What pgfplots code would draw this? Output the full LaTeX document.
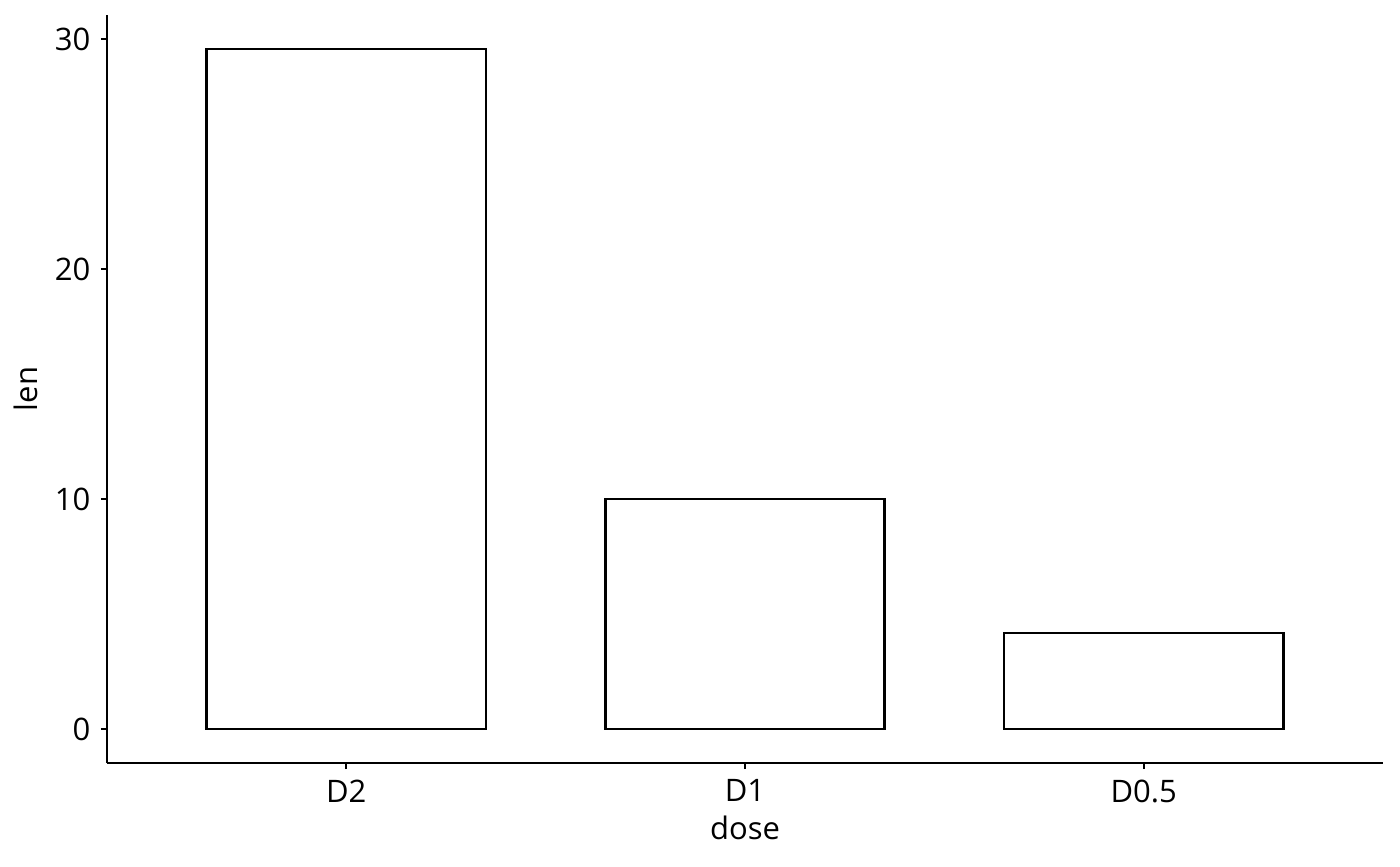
\documentclass[border=0pt]{standalone}
\usepackage{fontspec}
\setmainfont{Open Sans}
\usepackage{pgfplots}
\pgfplotsset{compat=1.18}
\begin{document}
\fontsize{15.5}{18}\selectfont
\begin{tikzpicture}
\begin{axis}[
  scale only axis,
  width=638pt, height=374pt,
  xmin=-0.6, xmax=2.6,
  ymin=-1.478, ymax=31.05,
  axis lines=left,
  axis line style={line width=1.2pt, -},
  xtick={0,1,2},
  xticklabels={D2,D1,D0.5},
  ytick={0,10,20,30},
  tick align=outside,
  tick style={black, line width=1.2pt},
  major tick length=3pt,
  /pgf/number format/assume math mode=true,
  ticklabel style={font=\fontsize{15.5}{18}\selectfont},
  label style={font=\fontsize{15.5}{18}\selectfont},
  xlabel={dose},
  ylabel={len},
  xlabel style={yshift=4pt},
  ylabel style={yshift=-2pt},
  ybar, bar width=0.7, bar shift=0pt,
]
\addplot[draw=black, fill=white, line width=1.2pt] coordinates {(0,29.57) (1,10.0) (2,4.17)};
\end{axis}
\pgfresetboundingbox
\path (current axis.south west) ++(-53.5pt,-51.5pt) rectangle ([shift={(8.5pt,7.5pt)}]current axis.north east);
\end{tikzpicture}
\end{document}
